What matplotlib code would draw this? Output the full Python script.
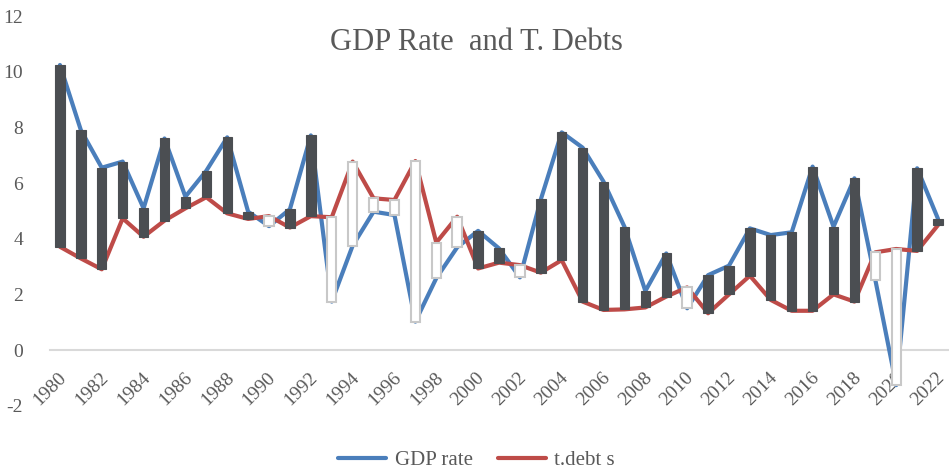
import numpy as np
import matplotlib.pyplot as plt
import matplotlib.transforms as mtransforms

years = list(range(1980, 2023))
gdp_rate = [10.24, 7.9, 6.55, 6.77, 5.09, 7.6, 5.51, 6.44, 7.64, 4.97, 4.45, 5.06, 7.71,
            1.74, 3.75, 4.97, 4.85, 1.02, 2.58, 3.69, 4.28, 3.65, 2.61, 5.41,
            7.82, 7.27, 6.05, 4.43, 2.12, 3.47, 1.5, 2.69, 3.03, 4.37,
            4.13, 4.23, 6.59, 4.43, 6.17, 2.52, -1.26, 6.53, 4.71]
t_debts = [3.71, 3.29, 2.9, 4.73, 4.07, 4.65, 5.09, 5.49, 4.91, 4.71, 4.81, 4.4, 4.81,
           4.77, 6.77, 5.45, 5.39, 6.79, 3.86, 4.79, 2.93, 3.14, 3.05, 2.78,
           3.23, 1.74, 1.44, 1.46, 1.53, 1.92, 2.25, 1.32, 2.0, 2.67,
           1.8, 1.41, 1.41, 2.0, 1.74, 3.51, 3.63, 3.56, 4.49]

plt.rcParams['font.family'] = ['Liberation Serif', 'DejaVu Serif']
plt.rcParams['axes.unicode_minus'] = False
grey = '#595959'

fig = plt.figure(figsize=(9.49, 4.75), dpi=100)
ax = fig.add_axes([49.5 / 949, 1 - 405.7 / 475, 899 / 949, (405.7 - 16) / 475])

for s in ['top', 'right', 'left']:
    ax.spines[s].set_visible(False)
ax.spines['bottom'].set_position(('data', 0))
ax.spines['bottom'].set_color('#d9d9d9')
ax.spines['bottom'].set_linewidth(1.5)
ax.spines['bottom'].set_zorder(1)

x = np.arange(len(years))
g = np.array(gdp_rate)
d = np.array(t_debts)

ax.plot(x, g, color='#4a7ebb', lw=3, solid_capstyle='round', label='GDP rate', zorder=2)
ax.plot(x, d, color='#be4b48', lw=3, solid_capstyle='round', label='t.debt s', zorder=2)

# up/down bars
up = g >= d
lo = np.minimum(g, d)
hi = np.maximum(g, d)
ax.bar(x[up], (hi - lo)[up], bottom=lo[up], width=0.45,
       color='#4b4e52', edgecolor='#4b4e52', lw=0.8, zorder=3)
ax.bar(x[~up], (hi - lo)[~up], bottom=lo[~up], width=0.45,
       color='white', edgecolor='#c8c8c8', lw=1.5, zorder=3)

ax.set_xlim(-0.5, len(years) - 0.5)
ax.set_ylim(-2, 12)
ax.set_yticks(range(-2, 13, 2))
ax.tick_params(axis='both', length=0, colors=grey, labelsize=14)
ax.tick_params(axis='y', pad=19)
ax.tick_params(axis='x', pad=18)
ax.set_xticks(x[::2])
ax.set_xticklabels([str(y) for y in years[::2]], rotation=45, ha='right',
                   va='center', rotation_mode='anchor')
shift = mtransforms.ScaledTranslation(4 / 100, 0, fig.dpi_scale_trans)
for lab in ax.get_xticklabels():
    lab.set_transform(lab.get_transform() + shift)

fig.text(0.502, 1 - 42 / 475, 'GDP Rate  and T. Debts', ha='center', va='center',
         fontsize=22, color=grey)

fig.legend(loc='center', bbox_to_anchor=(0.502, 1 - 460 / 475), ncol=2, frameon=False,
           fontsize=15, handlelength=2.3, columnspacing=1.2, handletextpad=0.4,
           labelcolor=grey)

fig.savefig('out.png', dpi=100)
